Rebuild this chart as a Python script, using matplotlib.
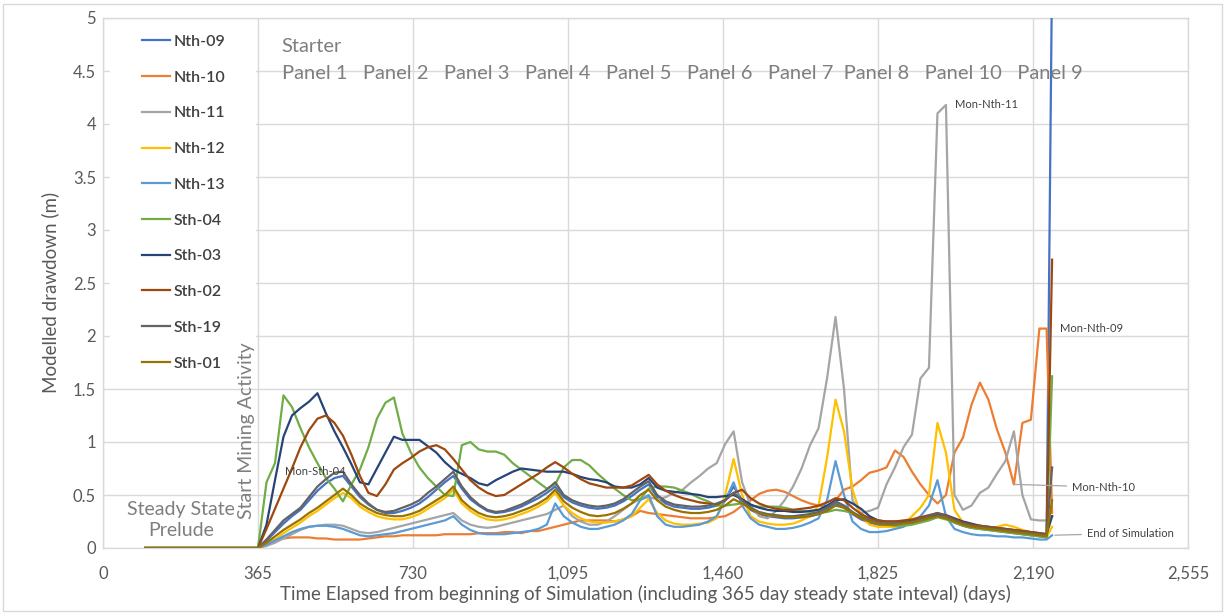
import matplotlib
matplotlib.use("Agg")
import matplotlib.pyplot as plt
from matplotlib.patches import Rectangle
from matplotlib.ticker import FuncFormatter, MultipleLocator

plt.rcParams['font.family'] = ['Lato', 'DejaVu Sans']

# Simulation time (days): steady-state start, then 20-day output steps, final steps
days = [100] + list(range(365, 2206, 20)) + [2222, 2235]

nth_09 = [0,
    0, 0.07, 0.15, 0.23, 0.3, 0.36, 0.45, 0.54, 0.61, 0.66,
    0.68, 0.58, 0.48, 0.41, 0.36, 0.33, 0.33, 0.35, 0.38, 0.42,
    0.48, 0.55, 0.62, 0.68, 0.56, 0.46, 0.4, 0.35, 0.33, 0.34,
    0.36, 0.39, 0.43, 0.47, 0.52, 0.58, 0.48, 0.43, 0.4, 0.38,
    0.37, 0.38, 0.4, 0.44, 0.49, 0.55, 0.6, 0.48, 0.42, 0.39,
    0.38, 0.37, 0.37, 0.38, 0.4, 0.45, 0.58, 0.45, 0.36, 0.32,
    0.3, 0.29, 0.28, 0.28, 0.29, 0.3, 0.32, 0.36, 0.42, 0.38,
    0.32, 0.27, 0.24, 0.22, 0.21, 0.21, 0.22, 0.23, 0.25, 0.28,
    0.31, 0.28, 0.24, 0.21, 0.19, 0.18, 0.17, 0.16, 0.15, 0.14,
    0.13, 0.12, 0.11,
    0.1, 5.5]

nth_10 = [0,
    0, 0.05, 0.08, 0.09, 0.1, 0.1, 0.1, 0.09, 0.09, 0.08,
    0.08, 0.08, 0.08, 0.09, 0.1, 0.11, 0.11, 0.12, 0.12, 0.12,
    0.12, 0.12, 0.13, 0.13, 0.13, 0.13, 0.14, 0.14, 0.14, 0.15,
    0.15, 0.14, 0.16, 0.16, 0.18, 0.2, 0.22, 0.24, 0.26, 0.26,
    0.26, 0.26, 0.25, 0.27, 0.3, 0.35, 0.33, 0.32, 0.31, 0.3,
    0.29, 0.28, 0.28, 0.28, 0.29, 0.3, 0.34, 0.4, 0.45, 0.51,
    0.54, 0.55, 0.53, 0.49, 0.45, 0.42, 0.4, 0.39, 0.45, 0.55,
    0.58, 0.64, 0.71, 0.73, 0.76, 0.92, 0.86, 0.72, 0.6, 0.5,
    0.42, 0.5, 0.9, 1.04, 1.35, 1.56, 1.4, 1.12, 0.9, 0.6,
    1.18, 1.21, 2.07,
    2.07, 0.33]

nth_11 = [0,
    0, 0.02, 0.05, 0.09, 0.13, 0.17, 0.2, 0.21, 0.22, 0.22,
    0.21, 0.18, 0.15, 0.14, 0.15, 0.17, 0.19, 0.21, 0.23, 0.25,
    0.27, 0.29, 0.31, 0.33, 0.26, 0.22, 0.2, 0.19, 0.2, 0.22,
    0.24, 0.26, 0.28, 0.3, 0.32, 0.36, 0.4, 0.3, 0.25, 0.22,
    0.22, 0.25, 0.3, 0.36, 0.42, 0.46, 0.48, 0.46, 0.48, 0.52,
    0.55, 0.62, 0.68, 0.75, 0.8, 0.98, 1.1, 0.62, 0.4, 0.3,
    0.28, 0.35, 0.45, 0.58, 0.75, 0.97, 1.13, 1.6, 2.18, 1.5,
    0.45, 0.33, 0.35, 0.38, 0.6, 0.76, 0.95, 1.07, 1.6, 1.7,
    4.1, 4.18, 0.5, 0.36, 0.4, 0.52, 0.57, 0.7, 0.82, 1.1,
    0.5, 0.27, 0.26,
    0.26, 0.3]

nth_12 = [0,
    0, 0.03, 0.08, 0.14, 0.19, 0.24, 0.3, 0.35, 0.41, 0.47,
    0.52, 0.47, 0.39, 0.34, 0.3, 0.28, 0.27, 0.27, 0.29, 0.32,
    0.37, 0.42, 0.47, 0.55, 0.42, 0.35, 0.3, 0.27, 0.26, 0.27,
    0.29, 0.32, 0.35, 0.39, 0.44, 0.52, 0.4, 0.33, 0.28, 0.25,
    0.24, 0.24, 0.25, 0.27, 0.3, 0.38, 0.46, 0.33, 0.26, 0.23,
    0.22, 0.22, 0.23, 0.24, 0.28, 0.5, 0.84, 0.5, 0.3, 0.25,
    0.23, 0.22, 0.22, 0.23, 0.26, 0.3, 0.4, 0.85, 1.4, 1.1,
    0.55, 0.3, 0.22, 0.2, 0.2, 0.2, 0.22, 0.3, 0.38, 0.5,
    1.18, 0.9, 0.36, 0.24, 0.2, 0.19, 0.18, 0.2, 0.22, 0.2,
    0.17, 0.15, 0.12,
    0.1, 0.2]

nth_13 = [0,
    0, 0.03, 0.07, 0.11, 0.15, 0.18, 0.2, 0.21, 0.21, 0.2,
    0.18, 0.15, 0.12, 0.11, 0.12, 0.13, 0.14, 0.16, 0.18, 0.2,
    0.22, 0.24, 0.26, 0.3, 0.22, 0.17, 0.14, 0.13, 0.13, 0.13,
    0.14, 0.15, 0.16, 0.18, 0.22, 0.42, 0.3, 0.24, 0.2, 0.18,
    0.18, 0.2, 0.22, 0.26, 0.32, 0.45, 0.5, 0.3, 0.22, 0.2,
    0.2, 0.21, 0.22, 0.25, 0.3, 0.45, 0.62, 0.4, 0.28, 0.22,
    0.2, 0.18, 0.18, 0.19, 0.21, 0.24, 0.28, 0.45, 0.82, 0.5,
    0.25, 0.18, 0.15, 0.15, 0.16, 0.18, 0.2, 0.25, 0.3, 0.4,
    0.64, 0.3, 0.18, 0.15, 0.13, 0.12, 0.12, 0.11, 0.11, 0.1,
    0.1, 0.09, 0.08,
    0.08, 0.12]

sth_04 = [0,
    0, 0.62, 0.8, 1.44, 1.33, 1.13, 0.95, 0.8, 0.66, 0.56,
    0.44, 0.6, 0.74, 0.95, 1.22, 1.37, 1.42, 1.08, 0.9, 0.76,
    0.66, 0.58, 0.5, 0.49, 0.97, 1.0, 0.93, 0.91, 0.91, 0.88,
    0.8, 0.74, 0.68, 0.62, 0.56, 0.6, 0.76, 0.83, 0.83, 0.78,
    0.7, 0.63, 0.56, 0.5, 0.45, 0.46, 0.56, 0.58, 0.58, 0.57,
    0.54, 0.51, 0.47, 0.44, 0.4, 0.4, 0.41, 0.42, 0.4, 0.39,
    0.39, 0.39, 0.38, 0.36, 0.35, 0.34, 0.33, 0.34, 0.36, 0.35,
    0.33, 0.3, 0.26, 0.24, 0.22, 0.21, 0.21, 0.22, 0.24, 0.26,
    0.29, 0.27, 0.24, 0.21, 0.19, 0.18, 0.17, 0.16, 0.15, 0.14,
    0.13, 0.12, 0.11,
    0.1, 1.62]

sth_03 = [0,
    0, 0.22, 0.64, 1.05, 1.25, 1.32, 1.38, 1.46, 1.27, 1.1,
    0.95, 0.79, 0.62, 0.6, 0.75, 0.9, 1.05, 1.02, 1.02, 1.02,
    0.96, 0.9, 0.81, 0.74, 0.7, 0.66, 0.61, 0.59, 0.64, 0.68,
    0.72, 0.75, 0.74, 0.73, 0.72, 0.72, 0.72, 0.7, 0.67, 0.65,
    0.64, 0.62, 0.58, 0.57, 0.57, 0.6, 0.66, 0.57, 0.54, 0.53,
    0.52, 0.51, 0.5, 0.48, 0.48, 0.49, 0.5, 0.46, 0.41, 0.38,
    0.36, 0.35, 0.35, 0.34, 0.34, 0.35, 0.36, 0.4, 0.45, 0.46,
    0.42, 0.37, 0.3, 0.26, 0.25, 0.25, 0.25, 0.26, 0.27, 0.3,
    0.32, 0.31, 0.28, 0.25, 0.23, 0.21, 0.2, 0.19, 0.18, 0.17,
    0.16, 0.15, 0.14,
    0.13, 0.3]

sth_02 = [0,
    0, 0.18, 0.37, 0.56, 0.75, 0.95, 1.11, 1.22, 1.25, 1.18,
    1.06, 0.88, 0.68, 0.52, 0.49, 0.6, 0.74, 0.8, 0.85, 0.91,
    0.95, 0.97, 0.93, 0.84, 0.74, 0.64, 0.57, 0.52, 0.49, 0.5,
    0.55, 0.6, 0.65, 0.7, 0.76, 0.81, 0.76, 0.7, 0.65, 0.61,
    0.59, 0.57, 0.57, 0.57, 0.59, 0.64, 0.69, 0.6, 0.54, 0.5,
    0.47, 0.45, 0.43, 0.42, 0.41, 0.45, 0.52, 0.55, 0.47, 0.42,
    0.39, 0.37, 0.36, 0.36, 0.37, 0.38, 0.4, 0.43, 0.47, 0.45,
    0.38, 0.32, 0.28, 0.26, 0.25, 0.25, 0.26, 0.27, 0.29, 0.31,
    0.33, 0.31, 0.27, 0.24, 0.22, 0.21, 0.2, 0.19, 0.18, 0.17,
    0.16, 0.15, 0.14,
    0.13, 2.72]

sth_19 = [0,
    0, 0.08, 0.17, 0.26, 0.32, 0.38, 0.48, 0.58, 0.65, 0.71,
    0.72, 0.6, 0.5, 0.42, 0.36, 0.34, 0.35, 0.38, 0.41, 0.45,
    0.52, 0.58, 0.65, 0.72, 0.58, 0.48, 0.41, 0.36, 0.34, 0.35,
    0.38, 0.41, 0.45, 0.5, 0.55, 0.62, 0.5, 0.45, 0.42, 0.4,
    0.39, 0.4, 0.42, 0.46, 0.52, 0.58, 0.63, 0.5, 0.44, 0.41,
    0.4, 0.39, 0.39, 0.4, 0.42, 0.45, 0.52, 0.45, 0.38, 0.34,
    0.32, 0.31, 0.3, 0.3, 0.31, 0.32, 0.34, 0.38, 0.44, 0.4,
    0.34, 0.29, 0.26, 0.24, 0.23, 0.23, 0.24, 0.25, 0.27, 0.3,
    0.33, 0.3, 0.26, 0.23, 0.21, 0.2, 0.19, 0.18, 0.17, 0.16,
    0.15, 0.14, 0.13,
    0.12, 0.76]

sth_01 = [0,
    0, 0.05, 0.11, 0.17, 0.22, 0.27, 0.33, 0.38, 0.44, 0.5,
    0.56, 0.5, 0.42, 0.37, 0.33, 0.31, 0.3, 0.3, 0.32, 0.35,
    0.4, 0.45, 0.5, 0.58, 0.45, 0.38, 0.33, 0.3, 0.29, 0.3,
    0.32, 0.35, 0.38, 0.42, 0.47, 0.55, 0.44, 0.38, 0.34, 0.31,
    0.3, 0.31, 0.33, 0.37, 0.42, 0.5, 0.55, 0.45, 0.39, 0.36,
    0.34, 0.33, 0.33, 0.34, 0.36, 0.4, 0.46, 0.42, 0.37, 0.33,
    0.31, 0.3, 0.29, 0.29, 0.29, 0.3, 0.32, 0.35, 0.4, 0.38,
    0.33, 0.28, 0.25, 0.23, 0.22, 0.22, 0.23, 0.24, 0.26, 0.28,
    0.3, 0.28, 0.25, 0.22, 0.2, 0.19, 0.18, 0.17, 0.16, 0.15,
    0.14, 0.13, 0.12,
    0.11, 0.45]

series_names = ["Nth-09", "Nth-10", "Nth-11", "Nth-12", "Nth-13",
                "Sth-04", "Sth-03", "Sth-02", "Sth-19", "Sth-01"]
series_values = [nth_09, nth_10, nth_11, nth_12, nth_13,
                 sth_04, sth_03, sth_02, sth_19, sth_01]
series_colors = ["#4472C4", "#ED7D31", "#A5A5A5", "#FFC000", "#5B9BD5",
                 "#70AD47", "#264478", "#9E480E", "#636363", "#997300"]

panel_row = ("Panel 1   Panel 2   Panel 3   Panel 4   Panel 5   Panel 6   "
             "Panel 7  Panel 8   Panel 10   Panel 9")

GRID = "#D9D9D9"
TXT = "#595959"
NOTE = "#7F7F7F"

fig = plt.figure(figsize=(12.25, 6.15), dpi=100)
fig.patches.append(Rectangle((3 / 1225, 4 / 615), 1219 / 1225, 607 / 615,
                             transform=fig.transFigure, fill=False,
                             edgecolor=GRID, linewidth=1.0))

ax = fig.add_axes([103 / 1225, 67 / 615, 1085 / 1225, 530 / 615])
ax.set_xlim(0, 2555)
ax.set_ylim(0, 5)
ax.xaxis.set_major_locator(MultipleLocator(365))
ax.yaxis.set_major_locator(MultipleLocator(0.5))
ax.xaxis.set_major_formatter(FuncFormatter(lambda v, p: f"{v:,.0f}"))
ax.yaxis.set_major_formatter(FuncFormatter(lambda v, p: f"{v:g}"))
ax.set_axisbelow(True)
ax.grid(True, color=GRID, linewidth=1.0)
for sp in ax.spines.values():
    sp.set_color(GRID)
    sp.set_linewidth(1.0)
ax.tick_params(length=0, labelsize=12, labelcolor=TXT)
ax.tick_params(axis="x", pad=13)
ax.tick_params(axis="y", pad=5)

for name, vals, col in zip(series_names, series_values, series_colors):
    ax.plot(days, vals, color=col, linewidth=1.6, label=name, zorder=3,
            solid_joinstyle="round")

ax.set_xlabel("Time Elapsed from beginning of Simulation (including 365 day "
              "steady state inteval) (days)", fontsize=13.5, color=TXT)
ax.set_ylabel("Modelled drawdown (m)", fontsize=13.5, color=TXT)
ax.xaxis.set_label_coords(0.5, -0.07)
ax.yaxis.set_label_coords(-0.04, 0.483)

# white backing behind the legend block hides the gridlines there
ax.add_patch(Rectangle((16, 1.58), 345, 3.39, facecolor="white",
                       edgecolor="none", zorder=1))
leg = ax.legend(loc="upper left", bbox_to_anchor=(0.036, 0.9685),
                frameon=False, fontsize=11.5, handlelength=1.75,
                handletextpad=0.2, labelspacing=1.35, borderpad=0,
                borderaxespad=0)
for t in leg.get_texts():
    t.set_color("#404040")
    t.set_fontweight("semibold")

# phase annotations
ax.text(421, 4.73, "Starter", fontsize=14.5, color=NOTE, va="center", ha="left")
ax.text(421, 4.48, panel_row, fontsize=14.5, color=NOTE, va="center", ha="left")
ax.text(184, 0.265, "Steady State\nPrelude", fontsize=14, color=NOTE,
        ha="center", va="center", linespacing=1.25)
ax.text(339, 1.11, "Start Mining Activity", fontsize=14, color=NOTE,
        rotation=90, ha="center", va="center")

# monitoring bore labels
small = dict(fontsize=8, color="#404040", va="center", ha="left", zorder=5)
ax.text(428, 0.72, "Mon-Sth-04", **small)
ax.text(2006, 4.18, "Mon-Nth-11", **small)
ax.text(2254, 2.07, "Mon-Nth-09", **small)
k10 = days.index(2145)
ax.annotate("Mon-Nth-10", xy=(days[k10], nth_10[k10]), xytext=(2282, 0.575),
            arrowprops=dict(arrowstyle="-", color="#A6A6A6", lw=0.9,
                            shrinkA=2, shrinkB=0), **small)
ax.annotate("End of Simulation", xy=(days[-1], nth_13[-1]),
            xytext=(2317, 0.14),
            arrowprops=dict(arrowstyle="-", color="#A6A6A6", lw=0.9,
                            shrinkA=2, shrinkB=2), **small)

fig.savefig("out.png", dpi=100)
